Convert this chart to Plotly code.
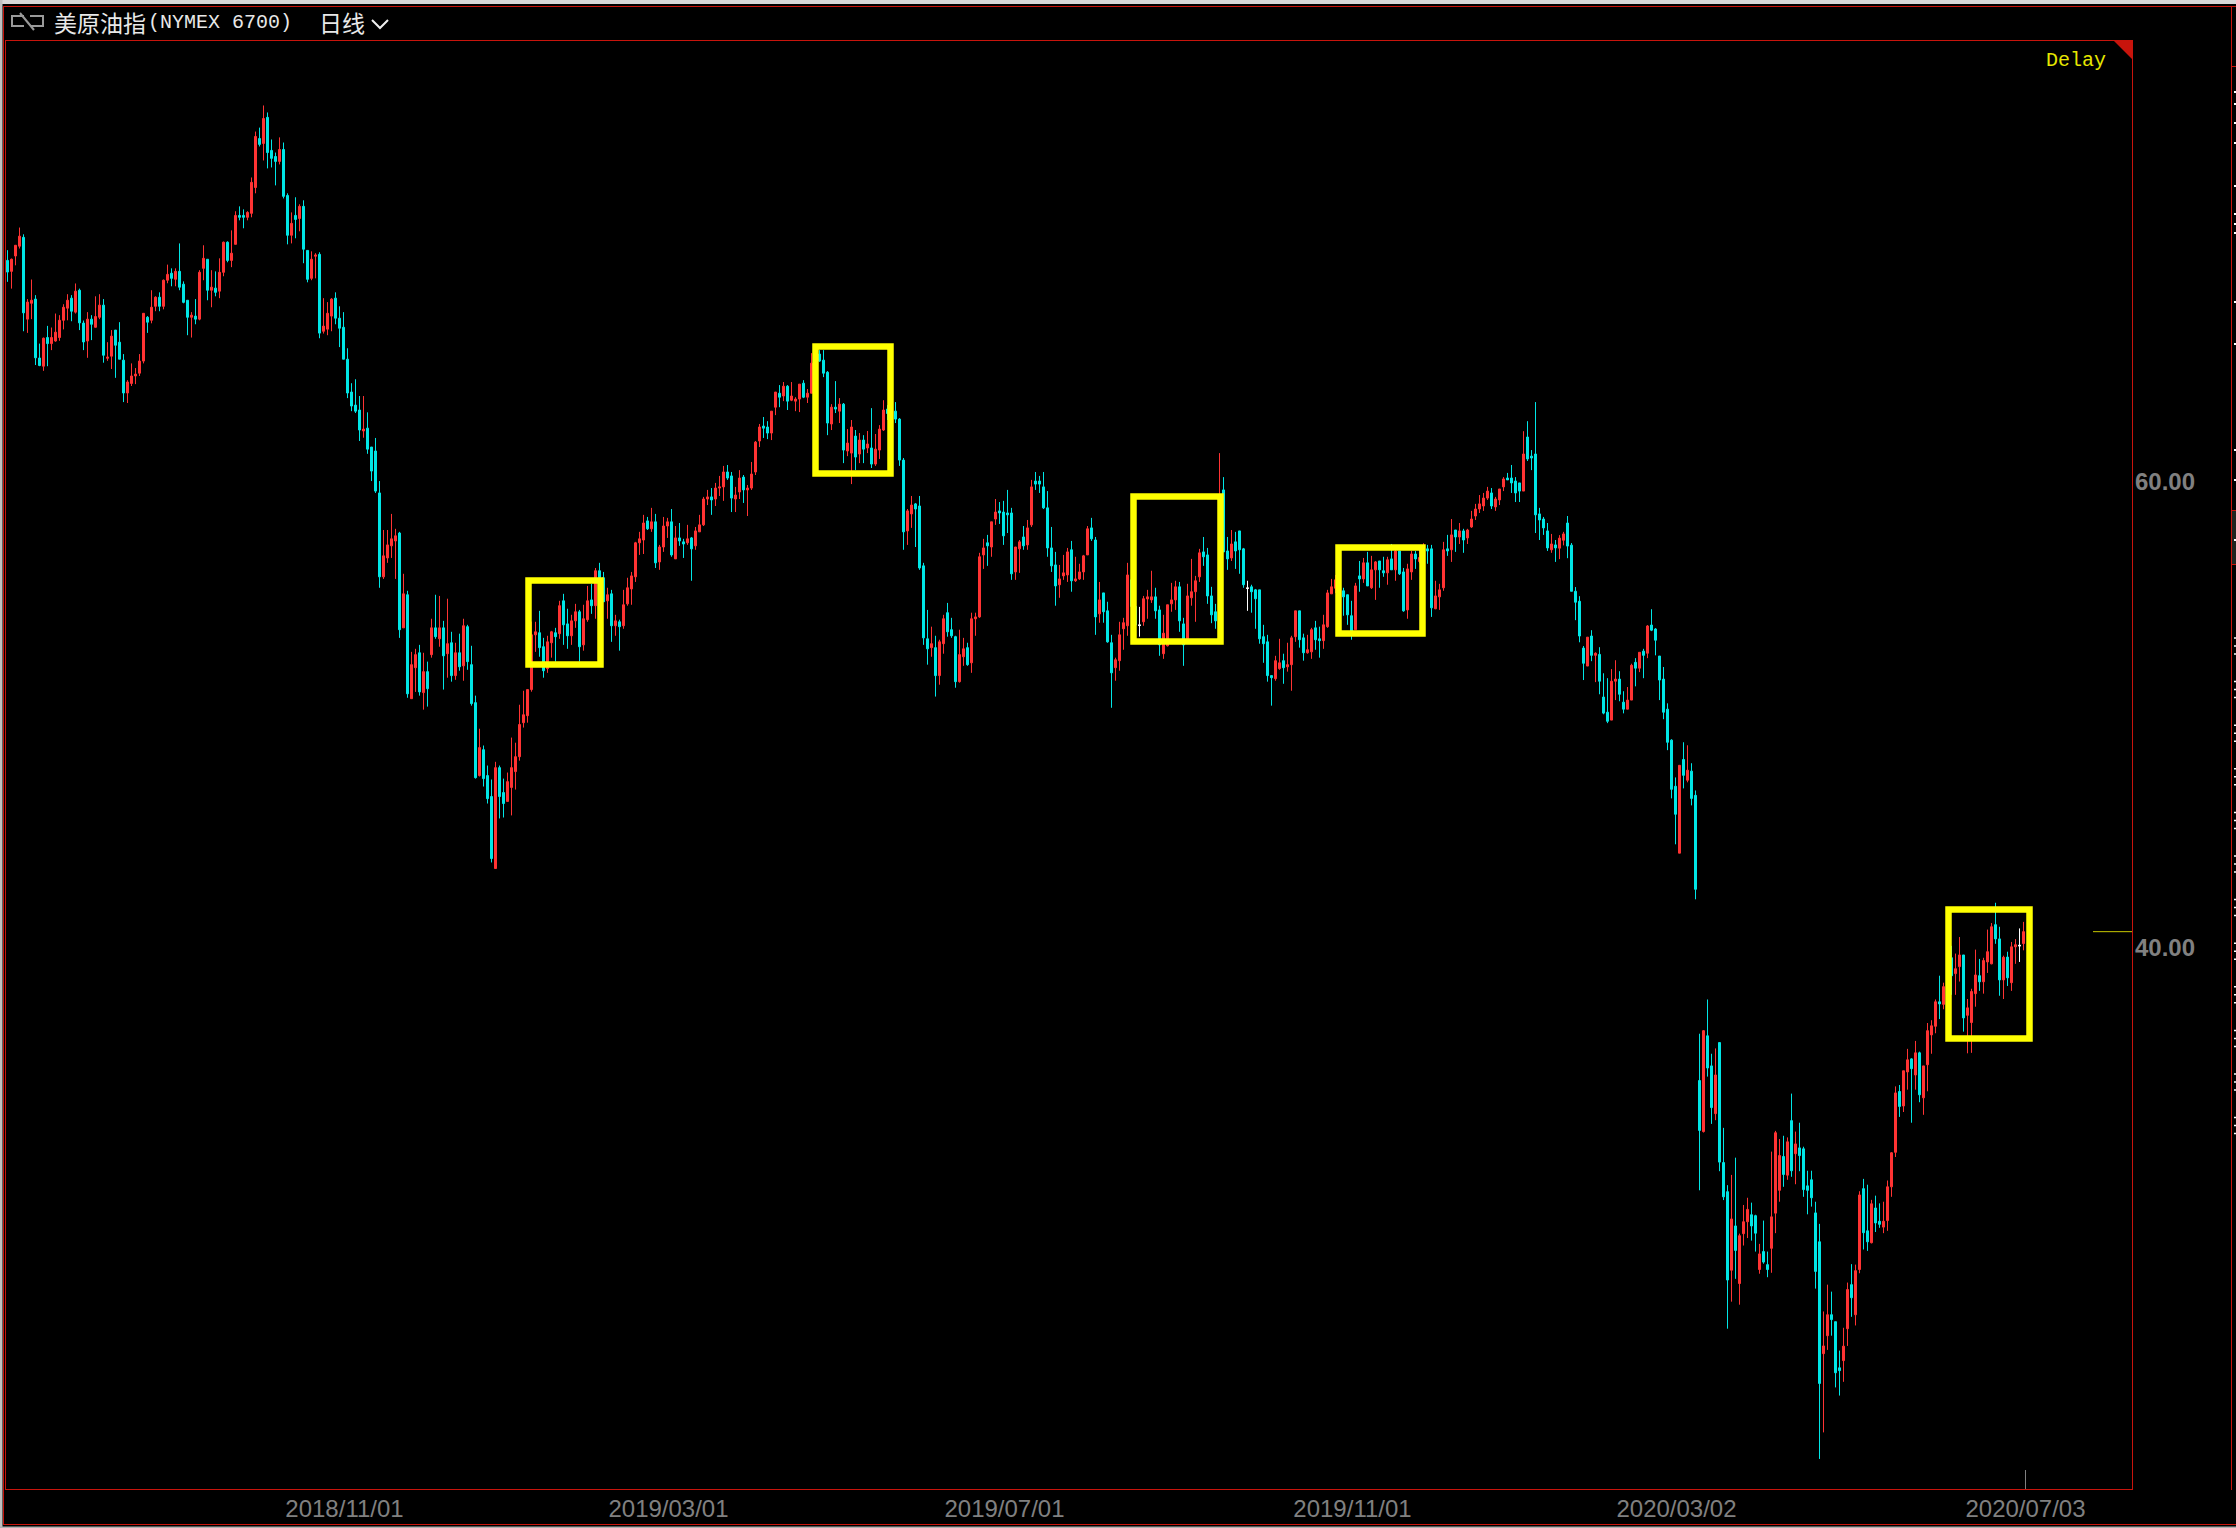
import plotly.graph_objects as go

open_prices = [
69.51,69.04,69.70,70.12,70.50,66.99,67.67,67.85,65.32,64.97,
66.20,65.94,66.05,66.20,66.94,67.46,67.89,67.29,68.23,66.82,
66.05,66.99,66.64,67.07,67.59,65.31,65.40,66.52,66.00,65.23,
63.82,64.23,64.55,64.67,65.19,67.07,66.94,67.54,67.93,67.54,
68.66,68.96,68.70,69.04,68.49,67.80,67.07,67.12,66.99,69.17,
69.56,68.23,68.32,68.19,69.00,70.29,69.51,70.20,71.44,71.44,
71.36,71.53,72.64,74.74,74.53,75.65,74.23,73.97,73.76,74.27,
72.30,70.59,71.44,71.31,71.83,69.94,68.74,69.69,69.77,66.47,
66.56,67.12,67.89,67.03,66.64,65.27,63.86,63.30,63.09,62.19,
62.31,61.50,61.33,59.53,55.93,56.74,57.26,57.47,57.81,53.74,
55.16,50.70,52.03,52.67,50.96,51.86,52.59,53.74,53.27,53.74,
52.63,53.10,51.69,52.67,52.11,53.79,52.16,50.53,47.40,48.51,
47.40,46.50,43.41,47.74,46.67,46.29,46.89,47.57,48.21,49.67,
49.97,51.09,53.44,53.53,52.93,51.99,53.10,53.53,53.49,54.90,
53.91,53.40,54.04,54.43,53.01,54.09,54.94,54.69,56.19,55.89,
54.90,55.20,53.83,54.00,53.83,54.77,55.41,55.93,57.39,57.51,
58.33,57.99,58.29,56.57,57.21,58.11,58.29,56.70,57.60,57.43,
57.39,57.60,57.26,57.86,58.16,59.27,59.36,59.27,59.74,59.79,
60.43,60.26,59.27,59.57,60.21,59.66,59.74,60.43,61.76,62.40,
62.36,62.10,63.21,63.81,63.69,64.11,63.51,63.47,63.56,64.24,
63.64,63.81,65.09,65.49,65.23,64.71,62.49,63.21,63.04,63.34,
61.33,61.24,61.97,61.20,61.80,61.46,61.46,60.77,61.37,62.23,
63.13,62.94,63.04,62.70,60.94,57.90,58.63,59.06,58.97,56.40,
53.27,52.89,52.89,51.69,53.06,54.39,53.66,53.36,51.43,52.50,
52.89,52.24,54.13,54.21,56.87,57.39,57.21,58.41,58.76,58.71,
58.67,58.67,56.14,57.13,57.64,57.30,58.16,60.04,60.04,59.79,
58.89,57.17,56.44,55.59,55.97,56.01,57.09,55.76,55.84,56.14,
56.87,58.03,57.51,54.34,55.24,54.47,53.10,52.03,52.33,53.70,
53.83,55.80,54.66,53.87,54.00,54.98,54.94,55.07,54.51,52.63,
52.97,54.77,54.94,55.50,53.91,53.23,55.03,55.29,55.93,57.00,
56.87,55.11,54.43,54.44,59.66,57.04,56.74,57.43,57.90,57.13,
55.46,55.50,55.37,55.37,53.36,53.14,51.69,51.56,51.99,52.33,
52.07,52.16,53.36,54.47,53.31,52.67,52.71,53.74,53.27,53.19,
53.79,55.20,55.44,55.66,55.33,55.16,54.26,53.66,55.97,55.84,
56.53,55.46,56.23,56.61,56.19,56.10,56.70,56.23,57.04,56.14,
54.51,56.14,56.91,56.59,56.94,57.13,57.13,54.56,55.07,55.46,
57.13,57.09,57.94,57.64,57.90,57.60,58.07,58.54,58.84,58.97,
59.31,59.53,58.93,59.23,59.79,60.17,60.17,60.04,59.96,59.61,
61.93,61.11,61.20,58.63,58.41,57.90,57.09,57.30,57.16,57.50,
58.24,57.29,55.31,54.88,52.87,52.10,53.39,52.56,52.60,50.77,
50.12,49.78,51.45,51.54,50.55,50.25,50.64,52.26,52.01,52.74,
52.65,53.86,53.69,52.53,51.54,50.25,48.92,46.94,44.07,48.09,
47.20,47.59,46.55,34.31,32.12,36.23,34.94,32.89,35.94,30.79,
29.54,26.17,28.07,25.60,27.74,28.25,28.55,28.51,26.20,26.97,
26.41,27.11,28.62,29.60,31.05,30.25,32.59,31.17,31.42,31.38,
29.79,30.05,28.63,27.39,22.59,23.36,24.26,23.96,21.98,22.29,
23.66,25.55,24.26,26.20,29.67,27.86,27.35,28.84,28.27,28.02,
28.30,29.75,31.23,33.84,33.22,34.68,35.24,34.55,35.50,33.57,
34.99,36.27,36.64,37.69,37.58,38.18,39.58,38.90,39.20,39.70,
37.11,36.80,38.04,38.81,38.55,39.40,39.32,41.00,40.39,38.63,
39.61,38.51,40.05,40.12,40.19,
]

high_prices = [
69.95,69.59,70.16,70.92,70.63,67.85,68.69,68.02,65.94,66.20,
66.70,66.63,67.23,67.16,67.63,68.06,68.02,68.52,68.30,66.93,
67.29,67.16,67.97,68.06,67.85,66.00,66.52,66.52,66.86,65.49,
64.37,65.09,64.89,65.49,67.24,67.12,68.23,67.97,68.14,68.69,
69.33,69.17,69.17,70.24,68.61,67.80,67.29,67.85,69.09,70.16,
69.56,69.09,69.04,69.60,70.32,70.33,70.80,71.62,71.83,71.70,
71.62,73.07,75.04,75.21,76.16,75.86,74.70,74.14,74.79,74.57,
72.39,71.57,72.22,71.92,72.09,69.94,69.90,69.82,69.86,67.89,
67.72,67.89,68.14,67.54,67.29,65.74,64.24,64.41,63.69,63.69,
62.99,61.50,61.89,60.04,57.94,57.94,58.63,57.99,57.86,56.06,
55.33,52.71,52.84,53.01,52.67,52.29,54.13,55.16,55.11,54.04,
54.99,53.57,53.10,53.49,54.13,53.87,52.97,50.83,49.41,48.69,
47.83,47.23,47.99,47.83,47.27,47.53,49.03,48.81,50.44,51.04,
51.09,54.01,54.00,54.47,53.31,53.40,53.61,53.74,54.90,55.20,
54.56,54.30,54.77,54.51,54.73,55.54,55.63,56.31,56.53,56.14,
55.46,55.37,54.30,54.09,55.37,55.89,56.14,57.43,57.86,58.59,
58.50,58.89,58.63,57.30,58.50,58.46,58.84,58.11,58.24,57.56,
58.16,57.64,58.07,58.59,59.36,59.66,59.74,59.96,60.26,60.69,
60.73,60.43,59.79,60.51,60.30,59.87,60.86,61.76,62.49,62.79,
62.61,63.04,63.86,64.16,64.29,64.16,64.29,63.64,64.20,64.37,
63.99,65.53,65.73,65.66,65.66,64.76,63.34,64.33,63.60,63.39,
62.27,62.66,62.23,62.10,62.01,62.19,63.17,62.06,62.44,63.51,
63.30,63.23,63.43,62.74,61.03,58.84,59.40,59.10,59.40,56.53,
54.51,53.79,53.40,53.23,54.30,54.81,54.17,53.40,53.66,53.31,
53.10,54.39,54.39,56.96,57.56,57.73,58.29,59.27,59.14,59.19,
59.66,58.89,57.21,57.51,58.11,58.37,60.09,60.43,60.26,60.43,
59.61,58.07,57.00,56.44,56.87,57.17,57.47,56.79,56.49,56.87,
58.11,58.46,57.64,55.71,55.24,54.86,53.44,52.46,54.00,54.17,
56.53,56.37,55.09,54.64,55.11,55.37,56.19,55.46,54.69,54.30,
54.73,55.67,55.76,55.71,54.17,55.63,56.70,55.97,57.13,57.64,
57.17,55.50,54.77,61.24,60.21,57.64,57.94,57.86,57.90,57.17,
55.76,55.59,55.41,55.37,53.87,53.44,51.69,52.54,53.27,52.63,
53.10,53.40,54.47,54.47,53.49,53.44,53.74,54.04,53.79,54.30,
55.37,55.84,56.01,55.80,55.46,55.16,54.90,55.67,56.61,56.74,
57.00,56.83,56.61,56.61,56.79,56.79,57.34,57.09,57.04,56.31,
56.49,57.04,57.04,57.09,57.37,57.30,57.30,55.76,55.63,57.43,
57.73,58.41,57.94,58.24,57.99,57.99,58.76,59.06,59.44,59.53,
59.79,59.74,59.36,59.70,60.21,60.39,60.73,60.21,59.96,62.18,
62.61,61.37,63.43,58.89,58.50,58.24,57.77,57.51,57.72,57.86,
58.54,57.38,55.49,55.10,52.96,53.34,53.64,52.69,52.91,51.79,
51.58,51.97,52.35,51.88,51.02,51.20,52.20,52.44,52.69,52.84,
53.86,54.54,53.73,52.53,52.06,50.50,48.96,47.32,47.84,48.83,
48.70,47.93,46.76,36.32,36.48,37.79,35.46,35.69,35.94,32.28,
29.82,30.26,31.00,27.74,28.97,29.28,29.07,28.55,27.30,28.30,
26.97,31.26,32.15,31.80,31.94,31.87,33.75,32.12,32.50,31.47,
30.44,30.44,29.11,28.16,24.40,25.55,25.25,23.96,22.72,23.70,
25.64,26.43,26.41,29.56,30.09,29.84,29.19,29.37,29.04,29.11,
30.02,31.24,34.06,34.12,34.73,35.67,35.27,36.01,35.55,34.94,
36.78,36.90,37.79,38.81,38.51,39.23,40.09,39.76,40.47,39.70,
37.81,38.25,39.93,39.53,39.58,40.79,41.07,41.94,40.91,39.67,
39.84,40.26,40.38,40.84,41.12,
]

low_prices = [
68.59,68.30,69.30,70.02,66.47,66.40,66.99,65.02,64.97,64.77,
64.97,65.66,66.02,66.06,66.55,66.94,66.90,67.23,66.52,65.66,
65.33,66.09,66.63,66.99,65.12,65.20,64.85,64.47,65.27,63.43,
63.39,64.12,64.20,64.55,65.09,66.40,66.81,67.33,67.33,67.41,
68.53,68.40,68.40,68.23,67.67,66.30,66.20,66.77,66.94,68.66,
67.80,67.50,67.97,67.89,68.83,69.43,69.22,70.20,71.23,70.89,
71.23,71.36,72.39,74.40,73.80,73.46,73.50,72.73,73.63,72.17,
70.20,70.24,70.46,70.76,69.39,68.57,68.66,68.74,66.17,66.37,
66.30,66.47,66.77,65.79,65.27,63.60,63.04,62.96,61.76,61.90,
61.21,60.04,59.53,55.46,55.84,56.53,56.74,55.84,53.31,53.74,
50.74,50.70,50.99,50.83,50.23,50.36,52.46,53.27,52.93,51.09,
51.60,51.43,51.51,51.90,51.47,51.94,50.40,47.27,47.36,46.93,
46.20,43.67,43.41,45.56,45.60,46.29,45.69,46.80,48.04,49.46,
49.67,51.00,52.71,52.50,51.60,51.81,52.46,52.29,53.27,53.01,
52.84,53.01,53.74,52.29,52.76,54.00,54.34,54.13,54.94,54.86,
54.13,53.14,53.40,52.76,53.70,54.69,54.73,55.71,56.87,56.91,
57.94,57.86,56.31,56.23,57.00,57.60,56.79,56.70,57.26,56.74,
57.30,55.76,57.09,57.86,58.11,59.01,58.59,58.97,59.40,59.19,
60.09,58.71,58.71,59.27,59.10,58.54,59.66,60.30,61.50,61.89,
61.84,61.80,62.87,63.21,63.47,63.09,63.47,63.04,63.00,63.60,
63.39,63.81,65.09,65.16,64.50,62.01,62.23,62.96,62.53,60.81,
61.11,59.91,60.51,60.81,60.81,61.24,60.60,60.69,60.99,62.19,
62.66,62.80,62.53,60.69,57.09,57.30,58.03,57.21,56.23,53.01,
52.16,52.50,50.79,51.30,52.63,53.36,53.31,51.17,51.39,52.11,
52.11,51.81,53.40,54.17,56.27,56.40,56.79,58.16,58.20,57.30,
57.81,55.80,55.80,56.10,57.09,57.09,58.07,59.66,59.53,58.84,
56.79,56.14,54.69,55.03,55.80,55.71,55.29,55.71,55.80,55.80,
56.87,57.47,53.44,53.96,53.96,53.10,50.31,51.47,51.90,52.80,
53.40,54.37,53.37,53.36,53.83,54.13,54.81,54.13,52.54,52.41,
52.94,54.43,54.51,53.57,52.11,53.09,54.69,54.00,55.71,56.40,
54.77,53.94,53.70,54.37,57.00,56.23,56.61,56.27,56.06,55.46,
54.47,54.39,53.70,53.06,52.24,51.43,50.40,51.47,51.94,51.34,
51.86,51.04,53.14,52.89,52.33,52.63,52.41,52.80,52.46,52.84,
53.74,55.20,55.23,55.09,54.26,53.87,53.23,53.66,55.29,55.67,
55.54,55.41,54.94,55.46,55.93,55.59,56.23,55.76,56.01,54.43,
54.13,55.80,56.27,56.51,56.80,56.49,54.21,54.54,54.51,55.33,
56.83,56.57,57.00,57.34,56.96,57.34,58.03,58.37,58.67,58.76,
59.23,58.84,58.76,59.01,59.61,60.09,59.53,59.14,59.14,59.61,
60.90,60.51,57.81,57.51,57.73,57.04,56.96,56.57,56.69,57.28,
56.73,55.31,54.07,53.12,51.50,52.10,52.31,51.41,50.89,50.03,
49.65,49.78,50.64,50.59,50.07,50.25,50.64,51.23,51.84,51.58,
52.44,53.60,52.56,50.64,49.82,48.49,46.42,44.45,44.07,46.85,
47.11,46.12,42.09,29.60,32.08,34.48,32.45,32.61,30.42,29.18,
23.66,24.82,25.80,24.69,27.23,27.55,27.44,26.97,26.02,26.45,
25.87,26.06,27.76,29.11,29.75,30.05,30.18,29.86,30.42,29.32,
28.57,28.90,25.38,18.07,19.21,22.75,23.36,21.14,20.79,21.38,
22.92,24.17,23.80,26.04,27.06,27.00,27.32,27.81,27.99,27.76,
27.86,29.32,31.03,32.75,32.96,33.92,32.50,33.92,33.38,32.84,
33.85,35.46,36.34,36.95,37.37,38.00,37.99,37.99,38.56,36.41,
35.48,35.50,37.48,38.16,38.04,38.93,39.30,40.18,37.95,37.81,
38.37,38.16,39.32,39.40,39.90,
]

close_prices = [
69.01,69.56,70.16,70.55,67.26,67.72,67.80,65.33,65.00,66.17,
65.94,66.20,66.43,66.94,67.50,67.80,67.33,68.19,66.83,66.01,
66.99,66.77,67.10,67.59,65.44,65.36,66.26,65.87,65.27,63.82,
64.29,64.55,64.63,65.19,67.24,66.86,67.50,67.93,67.54,68.66,
68.91,68.74,69.04,68.36,67.71,67.07,67.16,66.99,69.00,69.60,
68.23,68.36,68.14,69.00,70.29,69.51,69.82,71.44,71.36,71.36,
71.57,72.86,74.83,74.49,75.60,74.14,73.89,73.76,74.27,72.26,
70.59,71.10,71.27,71.83,69.99,68.70,69.56,69.74,66.39,66.69,
67.24,67.85,67.03,66.60,65.27,63.82,63.26,63.04,62.23,62.27,
61.41,60.47,59.61,55.93,56.83,57.30,57.56,57.69,53.66,55.20,
50.91,52.16,52.59,50.99,51.86,51.13,53.74,53.36,53.74,52.54,
53.06,51.69,52.67,52.07,53.83,52.29,50.49,47.31,48.60,47.27,
46.41,43.84,47.74,46.50,46.20,47.14,47.74,48.21,49.59,50.01,
51.09,53.44,53.57,52.89,51.90,53.14,53.57,53.36,54.69,53.87,
53.40,54.04,54.43,52.93,54.13,54.90,54.69,56.19,55.89,54.86,
55.16,53.83,54.04,53.79,54.73,55.46,55.97,57.39,57.56,58.24,
57.99,58.29,56.53,57.21,58.11,58.29,56.87,57.60,57.47,57.34,
57.56,57.13,57.90,58.16,59.27,59.36,59.23,59.74,59.79,60.43,
60.17,59.31,59.44,60.17,59.66,59.74,60.34,61.71,62.36,62.31,
62.10,63.04,63.86,63.64,64.11,63.47,63.69,63.56,64.20,63.64,
63.81,65.10,65.59,65.19,64.67,62.53,63.21,63.13,63.34,61.37,
61.67,62.36,61.07,61.80,61.41,61.63,60.77,61.41,62.27,63.09,
62.94,63.06,62.70,60.94,57.86,58.76,59.01,58.84,56.31,53.31,
52.84,53.06,51.69,53.14,54.13,53.57,53.40,51.43,52.59,52.84,
52.16,54.13,54.21,56.79,57.17,57.26,58.29,58.71,58.67,57.69,
58.59,56.06,57.21,57.43,57.26,58.03,59.79,59.91,59.91,58.89,
57.17,56.40,55.54,55.84,56.10,57.00,55.76,55.84,56.14,56.83,
57.99,57.56,54.21,54.94,54.43,53.14,51.81,52.37,53.44,53.96,
56.01,54.66,53.87,53.84,54.99,55.07,55.07,54.47,53.01,53.51,
54.73,54.94,55.50,54.04,53.01,55.11,55.29,55.76,56.96,56.79,
55.11,54.30,54.04,59.44,57.00,56.70,57.34,57.04,57.09,55.59,
55.43,55.29,54.99,53.27,53.06,51.69,51.60,52.33,52.24,52.03,
52.16,53.31,54.47,53.23,52.67,52.80,53.66,53.23,53.19,53.87,
55.24,55.50,55.80,55.23,55.07,54.30,53.51,55.54,55.84,56.53,
55.54,56.23,56.57,56.23,56.10,56.66,56.23,57.04,56.06,54.47,
56.27,56.91,56.70,56.76,57.16,57.04,54.60,55.11,55.37,57.09,
57.04,57.73,57.64,57.90,57.51,57.94,58.41,58.84,59.06,59.31,
59.61,58.97,59.27,59.70,60.13,60.09,59.96,59.53,59.61,61.20,
60.99,61.03,58.59,58.37,58.03,57.17,57.34,57.17,57.59,57.77,
57.25,55.31,54.84,53.39,52.22,53.34,52.56,52.65,51.45,50.08,
49.73,51.45,51.54,50.89,50.25,50.64,52.13,52.01,52.69,52.56,
53.82,53.64,53.21,51.50,50.12,48.83,46.81,45.74,47.84,47.41,
47.63,46.42,42.52,32.17,36.45,34.85,33.15,34.55,30.81,29.32,
25.75,28.37,27.02,27.65,28.25,28.78,28.07,27.76,26.87,26.52,
26.20,28.46,32.07,31.09,30.28,31.68,30.44,31.59,31.09,29.63,
29.60,29.28,26.12,21.31,22.92,24.26,24.05,21.77,21.86,22.91,
25.34,24.99,26.15,29.40,27.78,27.39,29.02,28.20,28.14,28.27,
29.75,31.21,33.78,33.20,34.73,35.20,34.82,35.50,33.70,34.94,
36.45,36.66,37.69,37.60,38.34,38.88,38.81,39.11,39.70,37.00,
37.43,38.13,38.84,38.55,39.46,39.84,40.91,40.39,38.63,39.60,
38.72,40.05,40.14,40.09,40.70,
]

doji_positions = [283, 310, 503]
tick_positions = [84.25, 165.25, 249.25, 336.25, 417.25, 504.5]
tick_labels = ["2018/11/01", "2019/03/01", "2019/07/01", "2019/11/01", "2020/03/02", "2020/07/03"]
price_ticks = [40, 60]
price_labels = ["40.00", "60.00"]

lens = {len(open_prices), len(high_prices), len(low_prices), len(close_prices)}
if len(lens) != 1:
    raise SystemExit(f"length mismatch {len(open_prices)} {len(high_prices)} {len(low_prices)} {len(close_prices)}")

W, H = 2236, 1528
L, T, R, B = 5, 40, 2132, 1489
RED = "#c8140c"
YEL = "#ffff00"
UP, DOWN = "#ff3333", "#00e6e6"
GREY = "#808080"

def X(p): return (p - L) / (R - L)
def Y(p): return (B - p) / (B - T)

idx = list(range(len(open_prices)))
main = [i for i in idx if i not in doji_positions]

def pick(a, s): return [a[i] for i in s]

fig = go.Figure()
fig.add_trace(go.Candlestick(
    x=main, open=pick(open_prices, main), high=pick(high_prices, main),
    low=pick(low_prices, main), close=pick(close_prices, main),
    whiskerwidth=0,
    increasing=dict(line=dict(color=UP, width=1), fillcolor=UP),
    decreasing=dict(line=dict(color=DOWN, width=1), fillcolor=DOWN),
    showlegend=False, hoverinfo="skip"))
fig.add_trace(go.Candlestick(
    x=doji_positions, open=pick(open_prices, doji_positions), high=pick(high_prices, doji_positions),
    low=pick(low_prices, doji_positions), close=pick(close_prices, doji_positions),
    whiskerwidth=0,
    increasing=dict(line=dict(color="#ffffff", width=1), fillcolor="#ffffff"),
    decreasing=dict(line=dict(color="#ffffff", width=1), fillcolor="#ffffff"),
    showlegend=False, hoverinfo="skip"))

shapes = []
def rect(x0, y0, x1, y1, fill, line=None, w=0):
    shapes.append(dict(type="rect", xref="paper", yref="paper", x0=X(x0), x1=X(x1), y0=Y(y0), y1=Y(y1),
                       fillcolor=fill, line=dict(color=line or fill, width=w)))
def line(x0, y0, x1, y1, color=RED, w=1):
    shapes.append(dict(type="line", xref="paper", yref="paper", x0=X(x0), x1=X(x1), y0=Y(y0), y1=Y(y1),
                       line=dict(color=color, width=w)))
def poly(pts, color, w=2, fill=None):
    d = "M " + " L ".join(f"{X(a):.5f},{Y(b):.5f}" for a, b in pts)
    if fill:
        d += " Z"
    shapes.append(dict(type="path", xref="paper", yref="paper", path=d, fillcolor=fill,
                       line=dict(color=color, width=w)))

# window chrome
rect(0, 0, W, 4, "#d8d8d8")
rect(0, 0, 2.5, H, "#c0c0c0")
rect(0, 1526.5, W, H, "#b0b0b0")
line(3, 6.5, W, 6.5)
line(3.5, 6, 3.5, 1524)
line(5.5, 40.5, R, 40.5)
line(5.5, 40, 5.5, B)
line(R + 0.5, 40, R + 0.5, B + 1)
line(5, B + 0.5, R, B + 0.5)
line(3, 1524.5, W, 1524.5)
line(2231.5, 6, 2231.5, B + 1)
line(2232, 66.5, W, 66.5)
rect(2232, 510, W, 564, "#202420")
line(2232, 510.5, W, 510.5)
line(2232, 564.5, W, 564.5)
poly([(2113, 40), (2133, 40), (2133, 60)], RED, w=0, fill=RED)
# clipped side-panel marks
for yy in (92, 104, 123, 143, 186, 214, 224, 233, 302, 344, 450, 480, 540):
    line(2234, yy, W, yy, "#ffffff", 2)
for k in range(12):
    for d in (0, 8, 16):
        line(2234, 638 + 43.6 * k + d, W, 638 + 43.6 * k + d, "#ffffff", 1.5)

# title icon and chevron
poly([(24, 16), (12, 16), (12, 26), (24, 26)], "#9a9a9a", 2)
poly([(30, 16), (43, 16), (43, 26), (30, 26)], "#9a9a9a", 2)
poly([(20, 13), (34, 30)], "#9a9a9a", 2)
poly([(372, 20), (380, 28), (388, 20)], "#f0f0f0", 2)

# highlighted boxes
for x0, x1, y0, y1 in [(528.5, 600.5, 580.5, 664.5), (815.5, 890.5, 346.5, 473.5),
                       (1133.5, 1220.5, 496.5, 641.5), (1338.5, 1422.5, 547.5, 633.5),
                       (1948.5, 2029.5, 909.5, 1038.5)]:
    shapes.append(dict(type="rect", xref="paper", yref="paper", x0=X(x0), x1=X(x1), y0=Y(y0), y1=Y(y1),
                       line=dict(color=YEL, width=6.5), fillcolor="rgba(0,0,0,0)"))

# last price marker and last-date tick
shapes.append(dict(type="line", xref="paper", yref="y", x0=X(2093), x1=X(R), y0=close_prices[-1], y1=close_prices[-1],
                   line=dict(color="#c8c800", width=1)))
shapes.append(dict(type="line", xref="x", yref="paper", x0=tick_positions[-1], x1=tick_positions[-1],
                   y0=0, y1=Y(1470), line=dict(color=GREY, width=1)))

def note(text, x, y, size, color, family, anchor="left"):
    return dict(text=text, xref="paper", yref="paper", x=X(x), y=Y(y), showarrow=False, xanchor=anchor,
                yanchor="middle", font=dict(size=size, color=color, family=family))

annotations = [
    note("美原油指", 52, 22, 23, "#e8e8e8", "Noto Sans CJK SC"),
    note("(NYMEX 6700)", 146, 23, 20, "#e8e8e8", "Liberation Mono"),
    note("日线", 317, 22, 23, "#e8e8e8", "Noto Sans CJK SC"),
    note("Delay", 2044, 61, 20, "#e6e600", "Liberation Mono"),
]

fig.update_layout(
    width=W, height=H, margin=dict(l=L, r=W - R, t=T, b=H - B, pad=0),
    paper_bgcolor="#000000", plot_bgcolor="#000000", showlegend=False,
    boxgap=0.5, boxgroupgap=0, dragmode=False,
    shapes=shapes, annotations=annotations,
    xaxis=dict(range=[-0.625, 531.125], showgrid=False, zeroline=False, showline=False,
               rangeslider=dict(visible=False), tickmode="array", tickvals=tick_positions, ticktext=tick_labels,
               ticks="", tickangle=0, ticklabelstandoff=3,
               tickfont=dict(size=24, color=GREY, family="Liberation Sans")),
    yaxis=dict(range=[16.78, 78.97], side="right", showgrid=False, zeroline=False, showline=False,
               tickmode="array", tickvals=price_ticks, ticktext=price_labels, ticks="", ticklabelstandoff=2,
               tickfont=dict(size=24, color=GREY, family="Liberation Sans", weight="bold")),
)

fig.write_html("out.html", config=dict(displayModeBar=False),
               post_script="document.body.style.margin='0';document.body.style.background='#000';")
